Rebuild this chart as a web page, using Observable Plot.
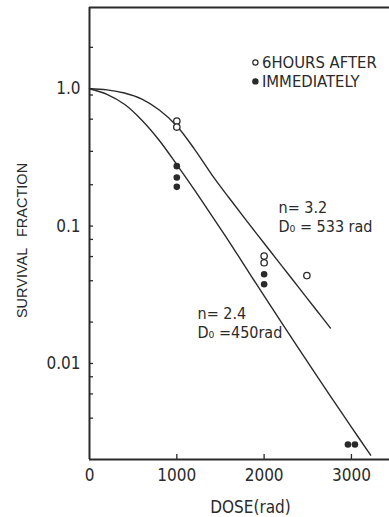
<!DOCTYPE html>
<html>
<head>
<meta charset="utf-8">
<script src="https://cdn.jsdelivr.net/npm/d3@7"></script>
<script src="https://cdn.jsdelivr.net/npm/@observablehq/plot@0.6"></script>
<style>
  html, body { margin: 0; padding: 0; background: #fff; }
  #chart svg { display: block; }
</style>
</head>
<body>
<div id="chart"></div>
<script>
// ---- data ----
const doseTicks = [0, 1000, 2000, 3000];
const doseInnerTicks = [1000, 2000, 3000];
const survLabelTicks = [1, 0.1, 0.01];
const survLabelText = ["1.0", "0.1", "0.01"];
const survMinorTicks = [2, 0.9, 0.6, 0.35, 0.2, 0.08, 0.06, 0.04, 0.02, 0.008, 0.006, 0.004];
const doseDomain = [0, 3436];
const survDomain = [0.002, 3.9];

// "6 hours after" (open circles)
const afterDose = [1000, 1000, 2000, 2000, 2490];
const afterSurv = [0.582, 0.526, 0.0605, 0.0541, 0.0436];

// "immediately" (filled circles)
const immedDose = [1000, 1000, 1000, 2000, 2000, 2960, 3040];
const immedSurv = [0.273, 0.226, 0.193, 0.0446, 0.0377, 0.00257, 0.00257];

// fitted curve n=3.2, D0=533 rad (traced)
const upperDose = [0, 200, 400, 600, 800, 1000, 1200, 1400, 1600, 1800, 2000, 2200, 2400, 2600, 2760];
const upperSurv = [1.0, 0.98, 0.93, 0.84, 0.70, 0.535, 0.365, 0.237, 0.16, 0.109, 0.075, 0.0515, 0.0355, 0.0244, 0.0181];

// fitted curve n=2.4, D0=450 rad (traced)
const lowerDose = [0, 200, 400, 600, 800, 1000, 1200, 1400, 1600, 1800, 2000, 2200, 2400, 2600, 2800, 3000, 3220];
const lowerSurv = [1.0, 0.91, 0.77, 0.59, 0.42, 0.28, 0.184, 0.119, 0.0769, 0.0488, 0.031, 0.0198, 0.0127, 0.00818, 0.0053, 0.00344, 0.00215];

// annotations
const noteText = ["n= 3.2", "D\u2080 = 533 rad", "n= 2.4", "D\u2080 =450rad"];
const noteDose = [2165, 2165, 1237, 1237];
const noteSurv = [0.135, 0.0984, 0.0228, 0.0167];

// legend
const legendText = ["6HOURS AFTER", "IMMEDIATELY"];
const legendFill = ["white", "#2a2a2a"];
const legendMarkDose = [1900, 1900];
const legendTextDose = [1975, 1975];
const legendSurv = [1.552, 1.13];

const xLabel = "DOSE(rad)";
const yLabel = "SURVIVAL \u2002FRACTION";

// ---- build ----
const ink = "#2a2a2a";
const font = "'Liberation Sans Narrow', 'DejaVu Sans Condensed', 'Roboto Condensed', 'Liberation Sans', sans-serif";
const titleFont = "'Liberation Sans', Arial, sans-serif";

const upper = upperDose.map((d, i) => ({dose: d, surv: upperSurv[i]}));
const lower = lowerDose.map((d, i) => ({dose: d, surv: lowerSurv[i]}));
const after = afterDose.map((d, i) => ({dose: d, surv: afterSurv[i]}));
const immed = immedDose.map((d, i) => ({dose: d, surv: immedSurv[i]}));
const notes = noteText.map((t, i) => ({t, dose: noteDose[i], surv: noteSurv[i]}));
const legend = legendText.map((t, i) => ({t, fill: legendFill[i], md: legendMarkDose[i], td: legendTextDose[i], surv: legendSurv[i]}));

const chart = Plot.plot({
  width: 389,
  height: 517,
  marginTop: 7,
  marginBottom: 58,
  marginLeft: 89,
  marginRight: 0,
  style: {fontFamily: font, color: ink, background: "white"},
  x: {domain: doseDomain},
  y: {type: "log", domain: survDomain},
  marks: [
    // frame lines
    Plot.ruleY([survDomain[1]], {stroke: ink, strokeWidth: 2}),
    Plot.ruleY([survDomain[0]], {stroke: ink, strokeWidth: 2}),
    Plot.ruleX([doseDomain[0]], {stroke: ink, strokeWidth: 2}),
    // axes
    Plot.axisX(doseTicks, {tickSize: 0, tickPadding: 9, fontSize: 17, label: null, tickFormat: d => String(d)}),
    Plot.axisX(doseInnerTicks, {tickSize: -5, tickFormat: () => "", label: null, stroke: ink, strokeWidth: 1.3}),
    Plot.axisY(survLabelTicks, {tickSize: 0, tickPadding: 9, fontSize: 17, label: null,
      tickFormat: d => survLabelText[survLabelTicks.indexOf(d)]}),
    Plot.axisY([...survLabelTicks, ...survMinorTicks], {tickSize: -4, tickFormat: () => "", label: null, stroke: ink, strokeWidth: 1.3}),
    // axis titles
    Plot.text([xLabel], {text: d => d, frameAnchor: "bottom", lineAnchor: "bottom", dx: 11, dy: 53, fontSize: 17, fill: ink}),
    Plot.text([yLabel], {text: d => d, frameAnchor: "left", textAnchor: "middle", rotate: -90, dx: -67, dy: 7, fontSize: 14.5, fontFamily: titleFont, fill: ink}),
    // curves
    Plot.line(upper, {x: "dose", y: "surv", stroke: ink, strokeWidth: 1.4, curve: "catmull-rom"}),
    Plot.line(lower, {x: "dose", y: "surv", stroke: ink, strokeWidth: 1.4, curve: "catmull-rom"}),
    // points
    Plot.dot(after, {x: "dose", y: "surv", r: 3.2, stroke: ink, strokeWidth: 1.3, fill: "white"}),
    Plot.dot(immed, {x: "dose", y: "surv", r: 3.3, fill: ink, stroke: "none"}),
    // annotations
    Plot.text(notes, {x: "dose", y: "surv", text: "t", textAnchor: "start", fontSize: 16, fill: ink}),
    // legend
    Plot.dot(legend, {x: "md", y: "surv", r: 2.6, fill: "fill", stroke: ink, strokeWidth: 1.2}),
    Plot.text(legend, {x: "td", y: "surv", text: "t", textAnchor: "start", fontSize: 16.5, fill: ink})
  ]
});
document.getElementById("chart").appendChild(chart);
</script>
</body>
</html>
